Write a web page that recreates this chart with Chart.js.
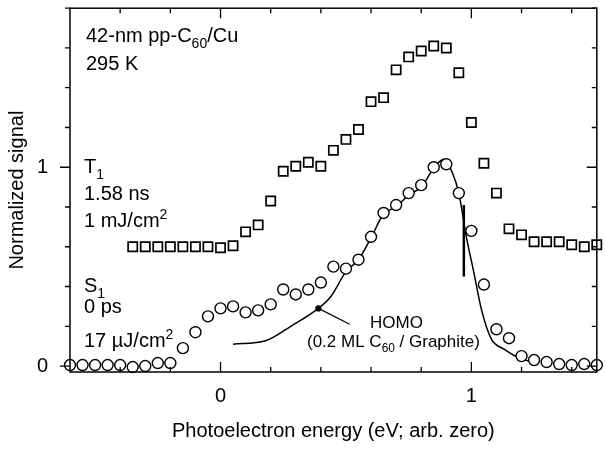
<!DOCTYPE html>
<html>
<head>
<meta charset="utf-8">
<script src="https://cdn.jsdelivr.net/npm/chart.js@4.4.1/dist/chart.umd.min.js"></script>
<style>
  html, body { margin: 0; padding: 0; background: #fff; }
</style>
</head>
<body>
<canvas id="chart" width="605" height="449"></canvas>
<script>
// S1 (0 ps) circles
const energyS1 = [-0.6, -0.55, -0.5, -0.45, -0.4, -0.35, -0.3, -0.25, -0.2, -0.15,
  -0.1, -0.05, 0, 0.05, 0.1, 0.15, 0.2, 0.25, 0.3, 0.35,
  0.4, 0.45, 0.5, 0.55, 0.6, 0.65, 0.7, 0.75, 0.8, 0.85,
  0.9, 0.95, 1.0, 1.05, 1.1, 1.15, 1.2, 1.25, 1.3, 1.35,
  1.4, 1.45, 1.5];
const signalS1 = [0.005, 0.005, 0.005, 0.005, 0.005, -0.005, 0.0, 0.015, 0.015, 0.09,
  0.17, 0.25, 0.29, 0.30, 0.27, 0.28, 0.31, 0.385, 0.36, 0.385,
  0.42, 0.50, 0.49, 0.535, 0.65, 0.77, 0.81, 0.87, 0.91, 1.0,
  1.015, 0.87, 0.68, 0.41, 0.185, 0.14, 0.05, 0.03, 0.02, 0.01,
  0.005, 0.01, 0.005];

// T1 (1.58 ns) squares
const energyT1 = [-0.35, -0.3, -0.25, -0.2, -0.15, -0.1, -0.05, 0, 0.05, 0.1,
  0.15, 0.2, 0.25, 0.3, 0.35, 0.4, 0.45, 0.5, 0.55, 0.6,
  0.65, 0.7, 0.75, 0.8, 0.85, 0.9, 0.95, 1.0, 1.05, 1.1,
  1.15, 1.2, 1.25, 1.3, 1.35, 1.4, 1.45, 1.5];
const signalT1 = [0.60, 0.60, 0.60, 0.60, 0.60, 0.60, 0.60, 0.595, 0.605, 0.675,
  0.71, 0.83, 0.98, 1.005, 1.025, 1.005, 1.085, 1.14, 1.19, 1.33,
  1.35, 1.49, 1.555, 1.585, 1.61, 1.60, 1.475, 1.225, 1.02, 0.87,
  0.69, 0.66, 0.625, 0.625, 0.625, 0.61, 0.60, 0.61];

// HOMO of 0.2 ML C60 / graphite
const homoEnergy = [0.05, 0.18, 0.28, 0.39, 0.44, 0.5, 0.55, 0.6, 0.65, 0.7,
  0.75, 0.8, 0.85, 0.89, 0.925, 0.95, 0.98, 1.01, 1.04, 1.08,
  1.13, 1.2, 1.25];
const homoSignal = [0.11, 0.127, 0.2, 0.29, 0.35, 0.475, 0.535, 0.645, 0.765, 0.80,
  0.86, 0.90, 0.995, 1.04, 0.97, 0.87, 0.65, 0.47, 0.285, 0.135,
  0.085, 0.035, 0.02];

// edge marker and pointer to the HOMO label
const edgeEnergy = [0.97, 0.97];
const edgeSignal = [0.45, 0.81];
const pointerEnergy = [0.39, 0.515];
const pointerSignal = [0.29, 0.21];

const xLabelValues = [0, 1];
const yLabelValues = [0, 1];

const pts = (xs, ys) => xs.map((x, i) => ({ x: x, y: ys[i] }));
const FONT = '"Liberation Sans", Arial, Helvetica, sans-serif';
const near = (v, list) => list.some(l => Math.abs(v - l) < 1e-6);

// draws a string made of runs, some of them sub/superscript
function richText(ctx, runs, x, y, size) {
  runs.forEach(r => {
    let s = size, dy = 0;
    if (r.sub) { s = size * 0.7; dy = size * 0.28; }
    if (r.sup) { s = size * 0.7; dy = -size * 0.4; }
    ctx.font = s + 'px ' + FONT;
    ctx.fillText(r.t, x, y + dy);
    x += ctx.measureText(r.t).width;
  });
}

const framePlugin = {
  id: 'frame',
  afterDraw(chart) {
    const ctx = chart.ctx;
    const ca = chart.chartArea;
    const xs = chart.scales.x, ys = chart.scales.y;
    ctx.save();
    ctx.strokeStyle = '#000';
    ctx.lineWidth = 1.5;
    ctx.strokeRect(ca.left, ca.top, ca.right - ca.left, ca.bottom - ca.top);

    ctx.lineWidth = 1.3;
    ctx.beginPath();
    xs.ticks.forEach(t => {
      const px = xs.getPixelForValue(t.value);
      const len = near(t.value, xLabelValues) ? 10 : 5;
      ctx.moveTo(px, ca.bottom); ctx.lineTo(px, ca.bottom - len);
      ctx.moveTo(px, ca.top); ctx.lineTo(px, ca.top + len);
    });
    ys.ticks.forEach(t => {
      if (t.value < -1e-6) return;
      const py = ys.getPixelForValue(t.value);
      const len = near(t.value, yLabelValues) ? 10 : 5;
      ctx.moveTo(ca.left - len, py); ctx.lineTo(ca.left, py);
      ctx.moveTo(ca.right - len, py); ctx.lineTo(ca.right, py);
    });
    ctx.stroke();

    // labels inside the plot
    ctx.fillStyle = '#000';
    ctx.textBaseline = 'alphabetic';
    ctx.textAlign = 'left';
    const lx = ca.left + 16;
    richText(ctx, [{ t: '42-nm pp-C' }, { t: '60', sub: true }, { t: '/Cu' }], lx, 42, 20);
    richText(ctx, [{ t: '295 K' }], lx, 70, 20);
    richText(ctx, [{ t: 'T' }, { t: '1', sub: true }], lx - 2, 173, 20);
    richText(ctx, [{ t: '1.58 ns' }], lx - 2, 200, 20);
    richText(ctx, [{ t: '1 mJ/cm' }, { t: '2', sup: true }], lx - 2, 227, 20);
    richText(ctx, [{ t: 'S' }, { t: '1', sub: true }], lx - 2, 292, 20);
    richText(ctx, [{ t: '0 ps' }], lx - 2, 313, 20);
    richText(ctx, [{ t: '17 \u00b5J/cm' }, { t: '2', sup: true }], lx - 2, 347, 20);
    richText(ctx, [{ t: 'HOMO' }], 370, 328, 17);
    richText(ctx, [{ t: '(0.2 ML C' }, { t: '60', sub: true }, { t: ' / Graphite)' }], 307, 347, 17);
    ctx.restore();
  }
};

new Chart(document.getElementById('chart'), {
  type: 'scatter',
  data: {
    datasets: [
      {
        label: 'S1',
        data: pts(energyS1, signalS1),
        pointStyle: 'circle',
        pointRadius: 5.5,
        borderColor: '#000',
        backgroundColor: '#fff',
        borderWidth: 1.4,
        order: 0
      },
      {
        label: 'T1',
        data: pts(energyT1, signalT1),
        pointStyle: 'rect',
        pointRadius: 6.5,
        borderColor: '#000',
        backgroundColor: '#fff',
        borderWidth: 1.7,
        order: 1
      },
      {
        label: 'HOMO',
        data: pts(homoEnergy, homoSignal),
        showLine: true,
        pointRadius: 0,
        borderColor: '#000',
        borderWidth: 1.5,
        cubicInterpolationMode: 'monotone',
        order: 2
      },
      {
        label: 'edge',
        data: pts(edgeEnergy, edgeSignal),
        showLine: true,
        pointRadius: 0,
        borderColor: '#000',
        borderWidth: 2.5,
        order: 2
      },
      {
        label: 'pointer',
        data: pts(pointerEnergy, pointerSignal),
        showLine: true,
        pointRadius: [2.5, 0],
        pointBackgroundColor: '#000',
        borderColor: '#000',
        borderWidth: 1.2,
        order: 2
      }
    ]
  },
  options: {
    responsive: false,
    animation: false,
    devicePixelRatio: 1,
    clip: false,
    layout: { padding: { top: 6, right: 5, left: 0, bottom: 0 } },
    plugins: { legend: { display: false }, tooltip: { enabled: false } },
    scales: {
      x: {
        type: 'linear',
        min: -0.6,
        max: 1.5,
        grid: { display: false, drawTicks: false },
        border: { display: false },
        ticks: {
          stepSize: 0.2,
          autoSkip: false,
          includeBounds: false,
          maxRotation: 0,
          padding: 12,
          color: '#000',
          font: { family: FONT, size: 20 },
          callback: v => near(v, xLabelValues) ? String(Math.round(v)) : ''
        },
        title: {
          display: true,
          text: 'Photoelectron energy (eV; arb. zero)',
          color: '#000',
          font: { family: FONT, size: 20 },
          padding: { top: 0, bottom: 6 }
        },
        afterFit: s => {
          s.height = 77;
          s.paddingLeft = 0; s.paddingRight = 0; s.paddingTop = 0; s.paddingBottom = 0;
        }
      },
      y: {
        type: 'linear',
        min: -0.03,
        max: 1.8,
        grid: { display: false, drawTicks: false },
        border: { display: false },
        ticks: {
          stepSize: 0.2,
          autoSkip: false,
          includeBounds: false,
          padding: 22,
          color: '#000',
          font: { family: FONT, size: 20 },
          callback: v => near(v, yLabelValues) ? String(Math.round(v)) : ''
        },
        title: {
          display: true,
          text: 'Normalized signal',
          color: '#000',
          font: { family: FONT, size: 20 },
          padding: { top: 5, bottom: 0 }
        },
        afterFit: s => {
          s.width = 70;
          s.paddingLeft = 0; s.paddingRight = 0; s.paddingTop = 0; s.paddingBottom = 0;
        }
      }
    }
  },
  plugins: [framePlugin]
});
</script>
</body>
</html>
